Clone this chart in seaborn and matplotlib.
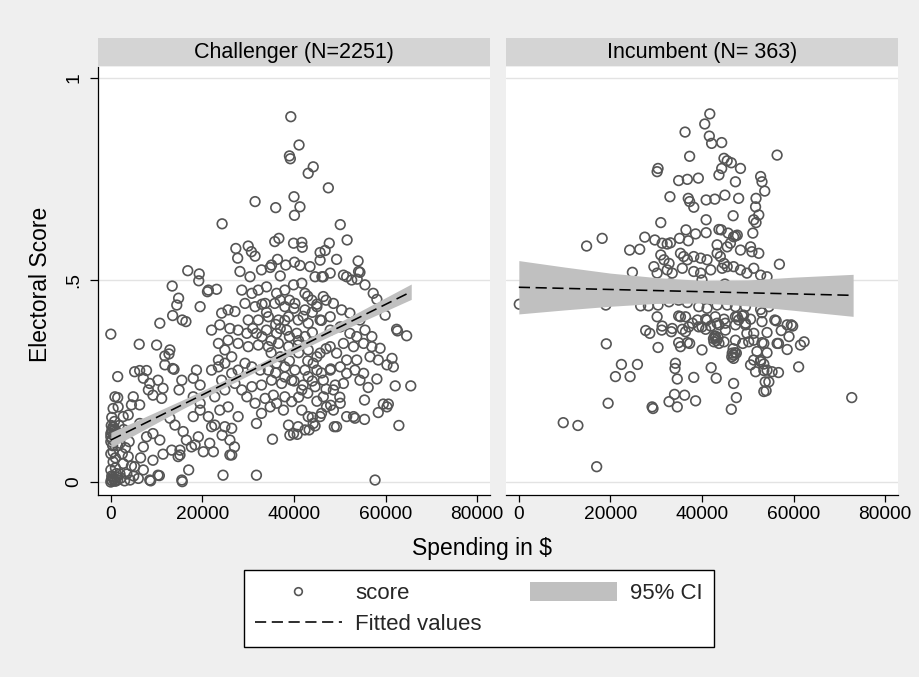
import numpy as np
import pandas as pd
import matplotlib
matplotlib.use("Agg")
import matplotlib.pyplot as plt
import seaborn as sns

# ---------------- data ----------------
panel_titles = ["Challenger (N=2251)", "Incumbent (N= 363)"]
x_ticks = [0, 20000, 40000, 60000, 80000]
x_ticklabels = ["0", "20000", "40000", "60000", "80000"]
y_ticks = [0, 0.5, 1]
y_ticklabels = ["0", ".5", "1"]
x_title = "Spending in $"
y_title = "Electoral Score"
legend_labels = ["score", "Fitted values", "95% CI"]

# challenger points: (spending in thousand $, score)
chal_pts = [
    (39.3, 0.904), (41.1, 0.834), (39.0, 0.807), (39.2, 0.800), (44.2, 0.780), (43.1, 0.764), (47.5, 0.728),
    (31.5, 0.694), (36.0, 0.679), (40.0, 0.706), (41.3, 0.681), (40.1, 0.660), (24.3, 0.639), (50.1, 0.637),
    (51.6, 0.599), (47.7, 0.591), (46.8, 0.573), (45.7, 0.568), (39.9, 0.591), (41.7, 0.593), (41.8, 0.581),
    (35.8, 0.595), (36.7, 0.603), (27.3, 0.578), (27.7, 0.554), (30.0, 0.584), (30.7, 0.570), (31.5, 0.559),
    (36.4, 0.551), (38.2, 0.537), (40.1, 0.544), (41.3, 0.536), (43.5, 0.533), (45.7, 0.549), (49.3, 0.551),
    (54.0, 0.547), (54.4, 0.519), (53.8, 0.502), (51.5, 0.508), (47.9, 0.517), (46.1, 0.508), (16.8, 0.523),
    (19.3, 0.515), (19.2, 0.498), (13.4, 0.485), (14.8, 0.455), (14.4, 0.438), (13.5, 0.412), (15.6, 0.401),
    (10.7, 0.393), (19.5, 0.434), (21.1, 0.471), (23.1, 0.477), (28.2, 0.521), (30.4, 0.508), (32.9, 0.525),
    (34.8, 0.531), (35.1, 0.537), (37.0, 0.510), (55.5, 0.488), (57.3, 0.467), (58.1, 0.452), (59.9, 0.413),
    (62.4, 0.378),
    (0.0, 0.366), (64.6, 0.362), (62.6, 0.374), (65.5, 0.238), (62.1, 0.238), (62.9, 0.140), (58.4, 0.172),
    (59.5, 0.193), (60.6, 0.193), (57.7, 0.005), (31.8, 0.017), (24.5, 0.017), (17.0, 0.030), (15.6, 0.001),
    (10.6, 0.016), (8.7, 0.003), (35.3, 0.106), (39.1, 0.116), (40.7, 0.118), (43.3, 0.129), (44.6, 0.139),
    (48.8, 0.137), (53.3, 0.158), (55.4, 0.155), (55.4, 0.203), (58.1, 0.255), (56.2, 0.234), (26.0, 0.067),
    (27.0, 0.087), (22.4, 0.075), (20.2, 0.075), (18.4, 0.092), (14.7, 0.063), (11.4, 0.069), (1.5, 0.261),
    (1.5, 0.209), (6.2, 0.341), (10.0, 0.339), (11.8, 0.312), (12.7, 0.317), (13.8, 0.279), (5.2, 0.273),
    (6.3, 0.276), (7.8, 0.276),
    (16.4, 0.397), (7.1, 0.257), (8.5, 0.244), (8.2, 0.228), (10.3, 0.252), (11.4, 0.232), (11.1, 0.207),
    (9.2, 0.215), (4.9, 0.211), (4.5, 0.191), (6.3, 0.191), (0.9, 0.211), (0.5, 0.182), (1.6, 0.186),
    (2.7, 0.162), (3.8, 0.166), (6.3, 0.145), (12.9, 0.327), (11.8, 0.290), (13.5, 0.281), (15.5, 0.252),
    (14.9, 0.228), (18.0, 0.257), (18.7, 0.277), (19.5, 0.240), (18.0, 0.211), (19.5, 0.195), (12.9, 0.158),
    (14.0, 0.141), (15.8, 0.125), (18.0, 0.162), (19.5, 0.178), (19.1, 0.112), (17.6, 0.087), (16.5, 0.104),
    (15.1, 0.079), (13.3, 0.079), (10.7, 0.104), (9.2, 0.120), (7.8, 0.112), (7.1, 0.087), (9.2, 0.054),
    (7.1, 0.030), (5.2, 0.038), (3.8, 0.063), (2.0, 0.096), (0.5, 0.137), (0.0, 0.112), (0.5, 0.075),
    (2.7, 0.046), (1.2, 0.021), (4.2, 0.005), (6.0, 0.009), (8.5, 0.005), (10.3, 0.017), (15.5, 0.005),
    (15.1, 0.067),
    (0.0, 0.000), (0.3, 0.003), (0.6, 0.008), (1.0, 0.002), (0.2, 0.015), (1.5, 0.005), (2.2, 0.010),
    (3.0, 0.003), (0.0, 0.030), (0.5, 0.050), (0.0, 0.120), (0.3, 0.130), (0.1, 0.140), (0.6, 0.115),
    (0.0, 0.100), (0.8, 0.150), (0.2, 0.160), (1.2, 0.125), (0.0, 0.070), (0.4, 0.090), (1.0, 0.060),
    (2.0, 0.020), (3.5, 0.020), (2.5, 0.070), (5.0, 0.015), (6.5, 0.060), (4.0, 0.100), (1.8, 0.140),
    (0.1, 0.005), (0.4, 0.012), (0.8, 0.004), (1.3, 0.012), (0.2, 0.125), (0.5, 0.135), (0.9, 0.130),
    (0.3, 0.105), (1.5, 0.090), (2.8, 0.130), (3.2, 0.085), (2.2, 0.115), (4.5, 0.040), (1.0, 0.035),
    (26.4, 0.067), (26.0, 0.104), (24.3, 0.116), (21.6, 0.096), (22.0, 0.137), (22.7, 0.141), (21.3, 0.162),
    (23.8, 0.178), (25.6, 0.186), (27.8, 0.162), (26.4, 0.133), (24.9, 0.137),
    (31.8, 0.145), (32.9, 0.170), (34.8, 0.186), (36.2, 0.195), (37.7, 0.178), (38.8, 0.141), (39.9, 0.120),
    (40.9, 0.137), (42.4, 0.129), (43.1, 0.162), (41.7, 0.178), (39.5, 0.199), (38.0, 0.211), (35.5, 0.215),
    (33.7, 0.207), (31.5, 0.195), (29.7, 0.211), (28.6, 0.228), (30.8, 0.236), (32.9, 0.240), (35.1, 0.252),
    (37.3, 0.244), (39.5, 0.252), (41.7, 0.228), (43.1, 0.261), (42.4, 0.277), (40.2, 0.277), (38.0, 0.285),
    (36.2, 0.294), (34.4, 0.277), (32.6, 0.277), (30.8, 0.285), (29.3, 0.294), (27.8, 0.277), (26.4, 0.269),
    (24.9, 0.294), (23.5, 0.302), (27.1, 0.244), (24.9, 0.228), (22.7, 0.211), (24.2, 0.252), (23.5, 0.285),
    (22.0, 0.277),
    (21.3, 0.475), (24.2, 0.418), (25.6, 0.426), (27.1, 0.422), (28.6, 0.475), (30.8, 0.467), (32.2, 0.475),
    (34.0, 0.483), (36.2, 0.467), (38.0, 0.475), (39.9, 0.488), (41.7, 0.492), (42.4, 0.467), (43.9, 0.450),
    (29.3, 0.442), (31.5, 0.434), (33.7, 0.442), (35.8, 0.442), (38.0, 0.434), (40.2, 0.442), (42.4, 0.426),
    (30.0, 0.401), (32.2, 0.401), (34.4, 0.409), (36.6, 0.401), (38.8, 0.409), (40.9, 0.401), (43.1, 0.393),
    (29.7, 0.368), (31.8, 0.368), (34.0, 0.376), (36.2, 0.368), (38.4, 0.376), (40.6, 0.368), (42.4, 0.360),
    (30.0, 0.335), (32.2, 0.339), (34.4, 0.335), (36.6, 0.343), (38.8, 0.335), (40.9, 0.339), (43.1, 0.327),
    (27.8, 0.343), (26.4, 0.310), (24.9, 0.327), (23.5, 0.343), (22.0, 0.376), (23.8, 0.389), (26.0, 0.380),
    (27.8, 0.376), (25.6, 0.351),
    (33.0, 0.360), (35.0, 0.350), (37.0, 0.380), (39.0, 0.360), (41.0, 0.350), (44.0, 0.370), (34.0, 0.420),
    (36.0, 0.390), (38.0, 0.400), (40.0, 0.430), (42.0, 0.410), (44.0, 0.420), (46.0, 0.400), (31.0, 0.380),
    (33.0, 0.440), (37.0, 0.450), (39.0, 0.450), (43.0, 0.460), (45.0, 0.440), (47.0, 0.450), (35.0, 0.320),
    (37.0, 0.310), (39.0, 0.300), (41.0, 0.320), (43.0, 0.300), (45.0, 0.310), (47.0, 0.330), (36.0, 0.270),
    (38.0, 0.260), (40.0, 0.250), (42.0, 0.240), (44.0, 0.250), (46.0, 0.270), (48.0, 0.280), (41.0, 0.210),
    (43.0, 0.220), (45.0, 0.200), (47.0, 0.230), (49.0, 0.240), (46.0, 0.170), (48.0, 0.190), (50.0, 0.210),
    (44.0, 0.160),
    (44.6, 0.508), (46.4, 0.508), (50.8, 0.512), (52.6, 0.500), (54.1, 0.521), (55.5, 0.376), (57.0, 0.360),
    (55.2, 0.343), (57.0, 0.335), (58.8, 0.331), (56.6, 0.310), (58.4, 0.302), (61.4, 0.306), (61.7, 0.285),
    (60.3, 0.290), (53.7, 0.302), (53.3, 0.277), (55.2, 0.269), (54.4, 0.252), (60.3, 0.186), (53.0, 0.162),
    (51.5, 0.162), (49.3, 0.137), (48.6, 0.178), (50.1, 0.195), (47.1, 0.186), (45.7, 0.162), (44.2, 0.145),
    (46.4, 0.211), (48.6, 0.228), (50.8, 0.244), (51.5, 0.269), (50.1, 0.285), (47.9, 0.277), (46.4, 0.252),
    (44.6, 0.236), (45.0, 0.277), (49.3, 0.319), (51.5, 0.302), (53.0, 0.335), (50.8, 0.343), (47.9, 0.335),
    (45.7, 0.319), (44.2, 0.294), (47.9, 0.376), (50.1, 0.384), (52.2, 0.368), (53.7, 0.360), (54.4, 0.401),
    (52.2, 0.418), (50.4, 0.426), (48.6, 0.442), (46.4, 0.459), (45.0, 0.434), (45.7, 0.401), (47.9, 0.409),
]

# incumbent points: (spending in thousand $, score)
inc_pts = [
    (41.7, 0.911), (40.6, 0.886), (36.3, 0.866), (41.6, 0.856), (42.1, 0.838), (44.3, 0.840), (37.3, 0.806),
    (56.4, 0.809), (44.8, 0.801), (45.5, 0.795), (46.4, 0.790), (44.3, 0.776), (48.4, 0.776), (43.7, 0.760),
    (47.3, 0.743), (30.4, 0.776), (30.2, 0.768), (34.9, 0.746), (36.8, 0.749), (39.2, 0.752), (52.8, 0.756),
    (53.1, 0.743), (53.7, 0.720), (51.8, 0.702), (51.7, 0.681), (52.4, 0.661), (51.3, 0.649), (51.8, 0.642),
    (33.0, 0.706), (37.0, 0.702), (37.3, 0.694), (38.2, 0.680), (40.9, 0.698), (42.8, 0.700), (45.0, 0.710),
    (48.0, 0.702), (40.9, 0.649), (46.8, 0.659), (31.0, 0.642), (36.5, 0.624), (38.6, 0.614), (40.9, 0.617),
    (43.7, 0.625), (45.7, 0.616), (47.3, 0.609), (51.1, 0.616), (14.8, 0.584), (18.2, 0.603), (24.2, 0.574),
    (26.4, 0.576), (27.5, 0.606), (29.7, 0.599), (31.3, 0.591), (33.1, 0.592), (35.1, 0.603), (37.0, 0.597),
    (56.9, 0.539), (24.8, 0.519), (0.1, 0.440), (19.0, 0.438),
    (32.4, 0.589), (44.2, 0.624), (46.9, 0.607), (47.7, 0.611), (46.2, 0.591), (43.3, 0.587), (45.5, 0.582),
    (48.4, 0.574), (50.6, 0.582), (52.4, 0.566), (50.9, 0.570),
    (31.0, 0.562), (31.7, 0.550), (32.8, 0.541), (35.3, 0.566), (36.0, 0.558), (36.8, 0.550), (38.2, 0.558),
    (39.7, 0.554), (41.1, 0.550), (43.3, 0.566), (44.0, 0.558), (44.8, 0.541), (45.5, 0.533), (29.5, 0.533),
    (30.2, 0.517), (32.4, 0.525), (33.5, 0.517), (35.7, 0.529), (38.2, 0.521), (39.7, 0.517), (41.9, 0.525),
    (44.4, 0.529), (46.9, 0.533), (48.4, 0.525), (49.8, 0.517), (51.3, 0.529), (52.8, 0.512), (54.2, 0.508),
    (26.6, 0.436), (28.3, 0.436), (30.4, 0.438), (32.8, 0.446), (34.9, 0.450), (36.8, 0.444), (39.3, 0.434),
    (41.1, 0.430), (43.3, 0.438), (45.5, 0.438), (47.3, 0.434), (49.5, 0.434), (52.8, 0.427), (54.6, 0.434),
    (30.2, 0.409), (34.9, 0.411), (36.4, 0.409), (39.0, 0.401), (40.8, 0.403), (42.9, 0.409), (44.8, 0.403),
    (47.3, 0.409), (48.8, 0.411), (50.6, 0.403), (58.6, 0.389), (59.5, 0.389), (31.3, 0.386), (33.5, 0.380),
    (37.9, 0.393), (47.3, 0.389), (49.5, 0.389),
    (35.0, 0.470), (38.0, 0.480), (42.0, 0.460), (45.0, 0.490), (48.0, 0.470), (40.0, 0.500), (33.0, 0.490),
    (50.0, 0.460), (44.0, 0.470), (37.0, 0.460),
    (27.7, 0.375), (28.6, 0.368), (31.2, 0.376), (33.3, 0.372), (35.7, 0.378), (36.4, 0.372), (40.0, 0.384),
    (40.8, 0.378), (41.9, 0.386), (43.7, 0.389), (45.1, 0.393), (48.0, 0.401), (51.3, 0.368), (53.1, 0.419),
    (54.2, 0.370), (56.2, 0.399), (57.3, 0.375), (59.8, 0.386), (59.0, 0.360), (62.3, 0.347), (61.5, 0.339),
    (56.7, 0.343), (58.6, 0.328), (53.1, 0.345), (52.0, 0.323), (54.2, 0.320), (50.2, 0.347), (48.9, 0.343),
    (47.3, 0.351), (46.6, 0.319), (47.5, 0.319), (46.9, 0.306), (42.9, 0.360), (42.6, 0.347), (43.7, 0.343),
    (44.8, 0.347), (40.0, 0.327), (36.8, 0.345), (34.9, 0.345), (35.3, 0.335), (30.4, 0.333), (19.1, 0.342),
    (61.1, 0.285), (56.7, 0.271), (55.3, 0.273), (53.5, 0.276), (53.8, 0.248), (54.6, 0.248), (54.0, 0.226),
    (53.5, 0.224), (51.3, 0.302), (50.6, 0.290), (51.7, 0.273), (52.8, 0.302), (53.5, 0.292), (46.9, 0.244),
    (47.5, 0.209), (46.4, 0.180), (42.0, 0.283), (43.1, 0.257), (38.2, 0.259), (38.6, 0.201), (36.2, 0.215),
    (34.0, 0.217), (32.8, 0.199), (34.6, 0.186), (34.2, 0.294), (34.1, 0.281), (34.6, 0.255), (29.3, 0.182),
    (29.1, 0.186), (25.9, 0.291), (22.4, 0.291), (21.1, 0.261), (24.3, 0.261), (19.5, 0.195), (9.7, 0.147),
    (12.9, 0.140), (17.0, 0.038), (72.7, 0.209),
    (42.9, 0.356), (42.5, 0.355), (43.2, 0.350), (42.8, 0.362), (43.5, 0.358), (46.9, 0.314), (46.5, 0.310),
    (47.2, 0.320), (46.8, 0.330), (35.3, 0.409), (39.3, 0.384), (37.1, 0.384), (37.3, 0.343), (41.1, 0.401),
    (43.3, 0.393), (45.1, 0.376), (47.7, 0.409), (49.1, 0.413), (49.5, 0.393), (49.8, 0.368), (51.3, 0.351),
    (53.5, 0.343), (52.8, 0.298), (54.2, 0.277), (56.4, 0.343), (55.9, 0.401), (53.1, 0.397),
]

# fitted lines and 95% CI bands
chal_fit_x = [0, 65600]
chal_fit_y = [0.104, 0.471]
chal_ci_x = [0, 16000, 32000, 48000, 65600]
chal_ci_lo = [0.085, 0.183, 0.275, 0.362, 0.452]
chal_ci_hi = [0.123, 0.205, 0.291, 0.384, 0.490]

inc_fit_x = [0, 73000]
inc_fit_y = [0.482, 0.462]
inc_ci_x = [0, 10000, 20000, 30000, 40000, 50000, 60000, 73000]
inc_ci_lo = [0.416, 0.426, 0.435, 0.442, 0.443, 0.436, 0.425, 0.410]
inc_ci_hi = [0.548, 0.532, 0.517, 0.506, 0.499, 0.500, 0.507, 0.514]

# ---------------- styling ----------------
sns.set_theme(style="white")
plt.rcParams["font.family"] = ["Liberation Sans", "DejaVu Sans"]

W, H = 919, 677
BG = "#efefef"
PT_COLOR = "#555555"
CI_COLOR = "#c0c0c0"
DASH = (0, (7, 3.5))

fig = plt.figure(figsize=(W / 100, H / 100), dpi=100, facecolor=BG)


def fx(px):
    return px / W


def fy(py):
    return 1 - py / H


panels = [
    (98, chal_pts, chal_fit_x, chal_fit_y, chal_ci_x, chal_ci_lo, chal_ci_hi, True),
    (506, inc_pts, inc_fit_x, inc_fit_y, inc_ci_x, inc_ci_lo, inc_ci_hi, False),
]

handles = None
for i, (left, pts, fxs, fys, cx, clo, chi, first) in enumerate(panels):
    ax = fig.add_axes([fx(left), fy(495), 392 / W, (495 - 67) / H])
    ax.set_facecolor("white")
    df = pd.DataFrame(pts, columns=["spend_k", "score"])
    df["spend"] = df["spend_k"] * 1000
    sns.scatterplot(data=df, x="spend", y="score", ax=ax, marker="o", s=48,
                    facecolors="none", edgecolor=PT_COLOR, linewidth=1.2,
                    zorder=2, label=legend_labels[0], legend=False)
    sc = ax.collections[-1]
    band = ax.fill_between(cx, clo, chi, color=CI_COLOR, lw=0, zorder=3,
                           label=legend_labels[2])
    fit_df = pd.DataFrame({"spend": fxs, "fit": fys})
    sns.lineplot(data=fit_df, x="spend", y="fit", ax=ax, color="black",
                 linestyle=DASH, lw=1.15, zorder=4, estimator=None, sort=False,
                 legend=False)
    line = ax.lines[-1]
    if first:
        handles = [sc, line, band]

    ax.set_xlim(-2800, 82800)
    ax.set_ylim(-0.032, 1.027)
    ax.set_xticks(x_ticks)
    ax.set_xticklabels(x_ticklabels)
    ax.set_yticks(y_ticks)
    ax.set_yticklabels(y_ticklabels)
    ax.set_xlabel("")
    ax.set_ylabel("")
    ax.yaxis.grid(True, color="#e3e3e3", lw=1.0, zorder=0)
    ax.xaxis.grid(False)
    ax.set_axisbelow(True)
    for s in ["top", "right"]:
        ax.spines[s].set_visible(False)
    ax.spines["bottom"].set_color("black")
    ax.spines["bottom"].set_linewidth(0.9)
    ax.tick_params(axis="x", bottom=True, direction="out", length=5, width=0.9,
                   color="black", labelsize=13.8, pad=3, labelcolor="black")
    if first:
        ax.spines["left"].set_color("black")
        ax.spines["left"].set_linewidth(0.9)
        ax.tick_params(axis="y", left=True, direction="out", length=5.8, width=0.9,
                       color="black", labelsize=13.8, pad=5.5, labelrotation=90,
                       labelcolor="black")
        for lab in ax.get_yticklabels():
            lab.set_va("center")
    else:
        ax.spines["left"].set_visible(False)
        ax.tick_params(axis="y", left=False, labelleft=False)

    # panel strip
    sax = fig.add_axes([fx(left), fy(66), 392 / W, 28 / H])
    sax.set_facecolor("#d4d4d4")
    sax.set_xticks([])
    sax.set_yticks([])
    for s in sax.spines.values():
        s.set_visible(False)
    sax.text(0.5, 0.47, panel_titles[i], ha="center", va="center",
             fontsize=15.5, color="black", transform=sax.transAxes)

fig.text(fx(41), fy(284), y_title, rotation=90, ha="center", va="center",
         fontsize=16.5, color="black")
fig.text(fx(482), fy(549), x_title, ha="center", va="center",
         fontsize=16.5, color="black")

leg = fig.legend(handles=handles, labels=legend_labels, ncol=2, loc="center",
                 bbox_to_anchor=(fx(244), fy(646), 470 / W, 75 / H), mode="expand",
                 borderaxespad=0.0,
                 frameon=True, fancybox=False, edgecolor="black", facecolor="white",
                 framealpha=1, fontsize=16, handlelength=3.9, handleheight=1.0,
                 handletextpad=0.6, markerscale=0.8, borderpad=0.5,
                 labelspacing=0.4, scatterpoints=1)
leg.get_frame().set_linewidth(1.0)

fig.savefig("out.png", dpi=100, facecolor=BG)
